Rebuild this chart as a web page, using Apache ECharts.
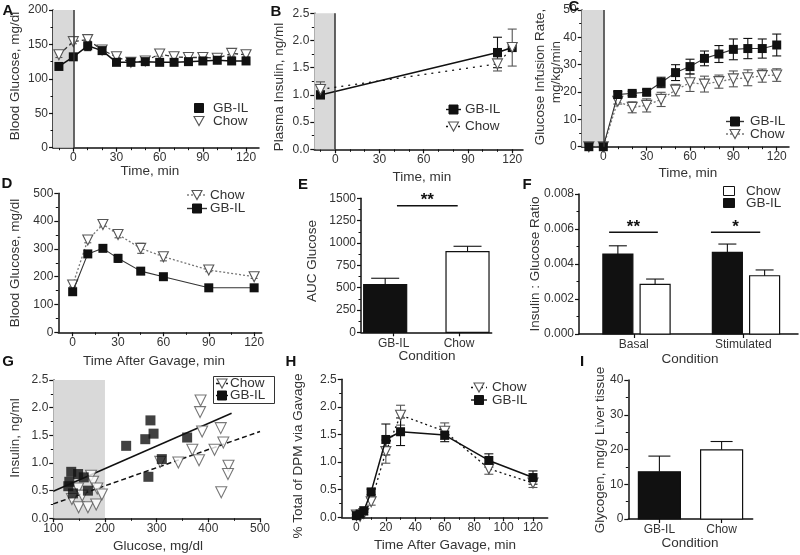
<!DOCTYPE html>
<html><head><meta charset="utf-8">
<script src="https://cdn.jsdelivr.net/npm/echarts@6/dist/echarts.min.js"></script>
<style>html,body{margin:0;padding:0;background:#fff}#c{width:800px;height:555px}</style>
</head><body><div id="c"></div><script>
// ---------- DATA ----------
// A: blood glucose during clamp
const timeA = [-10,0,10,20,30,40,50,60,70,80,90,100,110,120];
const gbA = [118,132,148,141,124,124,125,124,124,125,126,127,126,126];
const gbAErr = [3,3,7,5,3,2,2,2,3,2,2,2,3,3];
const chowA = [135,154,157,142,132,124,126,136,132,131,131,130,137,135];
const chowAErr = [4,3,5,6,4,3,3,3,3,3,3,3,4,3];
// B: plasma insulin
const timeB = [-10,110,120];
const gbB = [1.0,1.78,1.87];
const gbBErr = [0.07,0.28,0];
const chowB = [1.1,1.57,1.87];
const chowBErr = [0.14,0.13,0.34];
// C: glucose infusion rate
const timeC = [-10,0,10,20,30,40,50,60,70,80,90,100,110,120];
const gbC = [0,0,19.1,19.5,19.9,23.5,27.1,29.3,32.3,33.9,35.6,35.9,35.9,37.2];
const gbCErr = [0,0,1,0.8,1,1.9,2.9,2.7,2.7,3.1,3.8,3.7,3.5,4];
const chowC = [0,0,16.6,14.4,15.1,17.3,20.7,23.4,22.9,23.8,24.8,25.2,26,26.2];
const chowCErr = [0,0,1,2,2.4,2.6,2.1,3.2,2.9,2.4,2.9,2.9,2.4,2.3];
// D: oral glucose tolerance
const timeD = [0,10,20,30,45,60,90,120];
const gbD = [146,282,302,266,220,200,160,160];
const gbDErr = [5,12,8,14,8,6,4,4];
const chowD = [170,332,388,352,302,272,224,200];
const chowDErr = [6,10,6,12,18,15,6,6];
// E: AUC glucose
const condE = ['GB-IL','Chow'];
const aucE = [535,903];
const aucEErr = [70,60];
// F: insulin : glucose ratio
const condF = ['Basal','Stimulated'];
const ratioGB = [0.00457,0.00467];
const ratioGBErr = [0.00047,0.00047];
const ratioChow = [0.00284,0.00333];
const ratioChowErr = [0.0003,0.00033];
// G: insulin vs glucose
const scatterGB = [[134.7,0.84],[148,0.80],[159,0.74],[131,0.66],[129,0.58],[138,0.45],[167,0.50],[241,1.31],[278,1.43],[288,1.77],[294,1.53],[310,1.07],[284,0.75],[359,1.46]];
const scatterChow = [[136,0.35],[148,0.54],[149,0.20],[156,0.41],[167,0.20],[173,0.77],[177,0.66],[185,0.54],[183,0.25],[194,0.43],[385,2.13],[384,1.92],[388,1.57],[424,1.63],[429,1.37],[412,1.24],[369,1.24],[382,1.05],[342,1.01],[307,1.02],[439,0.95],[438,0.80],[425,0.47]];
const fitGB = [[100,0.49],[445,1.90]];
const fitChow = [[100,0.26],[500,1.57]];
// H: % total DPM via gavage
const timeH = [0,2.5,5,10,20,30,60,90,120];
const gbH = [0.03,0.06,0.12,0.46,1.41,1.55,1.49,1.03,0.72];
const gbHErr = [0.02,0.02,0.03,0.05,0.28,0.25,0.12,0.12,0.12];
const chowH = [0.04,0.02,0.07,0.28,1.19,1.85,1.56,0.88,0.62];
const chowHErr = [0.02,0.02,0.03,0.06,0.21,0.18,0.15,0.10,0.08];
// I: liver glycogen
const condI = ['GB-IL','Chow'];
const glyI = [13.6,19.9];
const glyIErr = [4.5,2.4];
// tick labels
const ticksTime30 = [0,30,60,90,120];
const minorTime10 = [-10,10,20,40,50,70,80,100,110];
const minorTime15 = [15,45,75,105];
const ticksTime20 = [0,20,40,60,80,100,120];
const minorTimeH = [10,30,50,70,90,110];
const catTicks = [1,3];

// ---------- STYLE / LAYOUT ----------
const FONT = '"Liberation Sans", Arial, Helvetica, sans-serif';
const INK = '#111';
const TXT = '#333';
const grids = [
  {left:53, top:10, width:206, height:137.7},
  {left:314.3, top:13.3, width:208.7, height:136},
  {left:581.7, top:10, width:207.3, height:136.7},
  {left:58.3, top:193.3, width:203.4, height:139},
  {left:361, top:198.3, width:130.7, height:134},
  {left:579, top:194, width:219, height:140},
  {left:53.3, top:380, width:206.7, height:138.3},
  {left:341.7, top:379.3, width:206, height:138},
  {left:628.3, top:380, width:124.4, height:139}
].map(g => Object.assign({outerBoundsMode:'none', containLabel:false}, g));

function xAx(gi, min, max, opts) {
  opts = opts || {};
  const ax = {
    type:'value', gridIndex:gi, min, max,
    axisLine:{show:true, onZero:false, lineStyle:{color:INK, width:1.5}},
    axisTick:{show:true, length:4, lineStyle:{color:INK, width:1.2}},
    axisLabel:{color:'#333', fontSize:12, fontFamily:FONT, margin:4},
    splitLine:{show:false}
  };
  if (opts.custom) { ax.axisTick.customValues = opts.custom; ax.axisLabel.customValues = opts.custom; }
  if (opts.interval) { ax.interval = opts.interval; }
  if (opts.minor) { ax.minorTick = {show:true, splitNumber:opts.minor, length:2.5, lineStyle:{color:INK, width:1}}; }
  if (opts.cats) { const c = opts.cats; ax.axisLabel.formatter = v => c[Math.round((v-1)/2)] || ''; ax.axisLabel.margin = 5; }
  return ax;
}
// extra axis carrying only short minor ticks
function minorAx(gi, min, max, vals) {
  return {type:'value', gridIndex:gi, min, max, position:'bottom',
    axisLine:{show:false, onZero:false},
    axisTick:{show:true, length:2.5, customValues:vals, lineStyle:{color:INK, width:1}},
    axisLabel:{show:false}, splitLine:{show:false}};
}
function yAx(gi, max, interval, dec) {
  return {
    type:'value', gridIndex:gi, min:0, max, interval,
    axisLine:{show:true, onZero:false, lineStyle:{color:INK, width:1.5}},
    axisTick:{show:true, length:4, lineStyle:{color:INK, width:1.2}},
    minorTick:{show:true, splitNumber:2, length:2.5, lineStyle:{color:INK, width:1}},
    axisLabel:{color:'#333', fontSize:12, fontFamily:FONT, margin:5, formatter: v => v.toFixed(dec)},
    splitLine:{show:false}
  };
}

const xAxes = [
  xAx(0,-14.1,129,{custom:ticksTime30}),
  xAx(1,-14.2,127.3,{custom:ticksTime30}),
  xAx(2,-14.95,128.5,{custom:ticksTime30}),
  xAx(3,-9.5,125,{custom:ticksTime30}),
  xAx(4,0,4,{custom:catTicks, cats:condE}),
  xAx(5,0,4,{custom:catTicks, cats:condF}),
  xAx(6,100,500,{interval:100, minor:2}),
  xAx(7,-10,130,{custom:ticksTime20}),
  xAx(8,0,4,{custom:catTicks, cats:condI}),
  minorAx(0,-14.1,129,minorTime10),
  minorAx(1,-14.2,127.3,minorTime10),
  minorAx(2,-14.95,128.5,minorTime10),
  minorAx(3,-9.5,125,minorTime15),
  minorAx(7,-10,130,minorTimeH)
];
const yAxes = [
  yAx(0,200,50,0), yAx(1,2.5,0.5,1), yAx(2,50,10,0),
  yAx(3,500,100,0), yAx(4,1500,250,0), yAx(5,0.008,0.002,3),
  yAx(6,2.5,0.5,1), yAx(7,2.5,0.5,1), yAx(8,40,10,0)
];

const zip = (xs, ys) => xs.map((x,i)=>[x, ys[i]]);
function gbLine(gi, xs, ys, extra) {
  return Object.assign({type:'line', name:'GB-IL', xAxisIndex:gi, yAxisIndex:gi, data:zip(xs,ys),
    symbol:'rect', symbolSize:9, itemStyle:{color:INK}, lineStyle:{color:INK, width:1.5}, z:4, silent:true}, extra||{});
}
function chowLine(gi, xs, ys, dash, color, extra) {
  return Object.assign({type:'line', name:'Chow', xAxisIndex:gi, yAxisIndex:gi, data:zip(xs,ys),
    symbol:'triangle', symbolRotate:180, symbolSize:10,
    itemStyle:{color:'#fff', borderColor:'#555', borderWidth:1.1},
    lineStyle:{color:color, width:1.3, type:dash}, z:3, silent:true}, extra||{});
}
function errSeries(gi, xs, ys, es, color, cap, up) {
  const data = [];
  xs.forEach((x,i)=>{ if (es[i] > 0) data.push([x, up ? ys[i] : ys[i]-es[i], ys[i]+es[i]]); });
  return {type:'custom', xAxisIndex:gi, yAxisIndex:gi, z:up?5:2, silent:true, data, encode:{x:0, y:[1,2]},
    renderItem:(p, api) => {
      const x = api.value(0);
      const a = api.coord([x, api.value(1)]), b = api.coord([x, api.value(2)]);
      const st = {stroke:color, lineWidth:1.1};
      const ch = [
        {type:'line', shape:{x1:a[0], y1:a[1], x2:b[0], y2:b[1]}, style:st},
        {type:'line', shape:{x1:b[0]-cap/2, y1:b[1], x2:b[0]+cap/2, y2:b[1]}, style:st}
      ];
      if (!up) ch.push({type:'line', shape:{x1:a[0]-cap/2, y1:a[1], x2:a[0]+cap/2, y2:a[1]}, style:st});
      return {type:'group', children:ch};
    }};
}
function barSeries(gi, xs, ys, w, fill) {
  return {type:'custom', xAxisIndex:gi, yAxisIndex:gi, z:3, silent:true, data:zip(xs,ys), encode:{x:0, y:1},
    renderItem:(p, api) => {
      const x = api.value(0);
      const a = api.coord([x, 0]), b = api.coord([x, api.value(1)]);
      return {type:'rect', shape:{x:a[0]-w/2, y:b[1], width:w, height:a[1]-b[1]},
        style:{fill:fill, stroke:INK, lineWidth:1.2}};
    }};
}
const shade = (from, to) => ({silent:true, itemStyle:{color:'#d9d9d9'}, data:[[{xAxis:from},{xAxis:to}]]});
const zeroLine = {silent:true, symbol:['none','none'], label:{show:false}, lineStyle:{color:'#333', width:1.5, type:'solid'}, data:[{xAxis:0}]};

// category positions for bar panels
const posE = [1,3], offE = [-0.26, 0.26];
const posF = [1,3], offGB_F = -0.29, offChow_F = 0.39;
const posI = [1,3];

const series = [
  // A
  errSeries(0, timeA, chowA, chowAErr, '#555', 7),
  errSeries(0, timeA, gbA, gbAErr, INK, 7),
  chowLine(0, timeA, chowA, [4,3], '#333'),
  gbLine(0, timeA, gbA, {markArea:shade(-14.1,0), markLine:zeroLine}),
  // B
  errSeries(1, timeB, chowB, chowBErr, '#555', 9),
  errSeries(1, timeB, gbB, gbBErr, INK, 9),
  gbLine(1, timeB, gbB, {markArea:shade(-14.2,0), markLine:zeroLine}),
  chowLine(1, timeB, chowB, [2,5], INK, {z:5}),
  // C
  errSeries(2, timeC, chowC, chowCErr, '#555', 9),
  errSeries(2, timeC, gbC, gbCErr, INK, 9),
  chowLine(2, timeC, chowC, [2,2], '#777'),
  gbLine(2, timeC, gbC, {markArea:shade(-14.95,0), markLine:zeroLine, lineStyle:{color:'#333', width:1.1}}),
  // D
  errSeries(3, timeD, chowD, chowDErr, '#555', 7),
  errSeries(3, timeD, gbD, gbDErr, INK, 7),
  chowLine(3, timeD, chowD, [2,2], '#777'),
  gbLine(3, timeD, gbD, {lineStyle:{color:'#333', width:1.1}}),
  // E
  barSeries(4, [posE[0]+offE[0]], [aucE[0]], 43, INK),
  barSeries(4, [posE[1]+offE[1]], [aucE[1]], 43, '#fff'),
  errSeries(4, [posE[0]+offE[0], posE[1]+offE[1]], aucE, aucEErr, INK, 28, true),
  // F
  barSeries(5, posF.map(p=>p+offGB_F), ratioGB, 30, INK),
  barSeries(5, posF.map(p=>p+offChow_F), ratioChow, 30, '#fff'),
  errSeries(5, posF.map(p=>p+offGB_F), ratioGB, ratioGBErr, INK, 18, true),
  errSeries(5, posF.map(p=>p+offChow_F), ratioChow, ratioChowErr, INK, 18, true),
  // G
  {type:'line', xAxisIndex:6, yAxisIndex:6, data:fitChow, symbol:'none', lineStyle:{color:INK, width:1.5, type:[5,3]}, z:2, silent:true,
    markArea:shade(100,200)},
  {type:'line', xAxisIndex:6, yAxisIndex:6, data:fitGB, symbol:'none', lineStyle:{color:INK, width:1.5}, z:2, silent:true},
  {type:'scatter', name:'Chow', xAxisIndex:6, yAxisIndex:6, data:scatterChow, symbol:'triangle', symbolRotate:180, symbolSize:11,
    itemStyle:{color:'#fff', borderColor:'#555', borderWidth:1.1}, z:3, silent:true},
  {type:'scatter', name:'GB-IL', xAxisIndex:6, yAxisIndex:6, data:scatterGB, symbol:'rect', symbolSize:10,
    itemStyle:{color:INK}, z:4, silent:true},
  // H
  errSeries(7, timeH, chowH, chowHErr, '#555', 9),
  errSeries(7, timeH, gbH, gbHErr, INK, 9),
  chowLine(7, timeH, chowH, [2,3], INK),
  gbLine(7, timeH, gbH),
  // I
  barSeries(8, [posI[0]], [glyI[0]], 42, INK),
  barSeries(8, [posI[1]], [glyI[1]], 42, '#fff'),
  errSeries(8, posI, glyI, glyIErr, INK, 22, true)
];

// ---------- TEXT / LEGENDS ----------
function txt(x, y, s, size, opts) {
  opts = opts || {};
  return {type:'text', x, y, rotation:opts.rot ? Math.PI/2 : 0, z:10, silent:true,
    style:{text:s, fill:opts.bold ? '#111' : TXT, fontSize:size, fontFamily:FONT, fontWeight:opts.bold?'bold':'normal',
      align:opts.align||'center', verticalAlign:'middle', textAlign:opts.align||'center', textVerticalAlign:'middle'}};
}
const ytitle = (x, y, s) => txt(x, y, s, 13.5, {rot:true});
const xtitle = (x, y, s) => txt(x, y, s, 13.5);
const letter = (x, y, s) => txt(x, y, s, 15, {bold:true});
const legText = (x, y, s) => txt(x, y, s, 13.5, {align:'left'});
const sq = (cx, cy, fill, w, h) => ({type:'rect', z:10, silent:true, shape:{x:cx-(w||9)/2, y:cy-(h||9)/2, width:w||9, height:h||9}, style:{fill:fill, stroke:INK, lineWidth:1}});
const tri = (cx, cy) => ({type:'polygon', z:10, silent:true, shape:{points:[[cx-5,cy-4.5],[cx+5,cy-4.5],[cx,cy+4.5]]}, style:{fill:'#fff', stroke:'#555', lineWidth:1.1}});
const seg = (x1, x2, y, dash, color) => ({type:'line', z:9, silent:true, shape:{x1, y1:y, x2, y2:y}, style:{stroke:color||INK, lineWidth:1.4, lineDash:dash||null}});

const baseGraphics = [
  letter(8,11,'A'), letter(276,12,'B'), letter(574,7,'C'),
  letter(7,184,'D'), letter(303,185,'E'), letter(527,185,'F'),
  letter(8,362,'G'), letter(291,362,'H'), letter(582,362,'I'),
  ytitle(15,76,'Blood Glucose, mg/dl'), xtitle(150,171,'Time, min'),
  ytitle(279,87,'Plasma Insulin, ng/ml'), xtitle(422,177,'Time, min'),
  ytitle(540,77,'Glucose Infusion Rate,'), ytitle(556,72,'mg/kg/min'), xtitle(688,173,'Time, min'),
  ytitle(15,263,'Blood Glucose, mg/dl'), xtitle(154,361,'Time After Gavage, min'),
  ytitle(312,261,'AUC Glucose'), xtitle(427,356,'Condition'),
  ytitle(535,264,'Insulin : Glucose Ratio'), xtitle(690,359,'Condition'),
  ytitle(15,438,'Insulin, ng/ml'), xtitle(158,546,'Glucose, mg/dl'),
  ytitle(298,456,'% Total of DPM via Gavage'), xtitle(445,545,'Time After Gavage, min'),
  ytitle(600,450,'Glycogen, mg/g Liver tissue'), xtitle(690,543,'Condition'),
  // legend A
  sq(199,108,INK), legText(213,108,'GB-IL'), tri(199,121), legText(213,121,'Chow'),
  // legend B
  seg(446,461,109.5), sq(453.5,109.5,INK), legText(465,109.5,'GB-IL'),
  seg(446,461,126.5,[2,4]), tri(453.5,126.5), legText(465,126.5,'Chow'),
  // legend C
  seg(726,744,121.5,null,'#333'), sq(735,121.5,INK), legText(750,121.5,'GB-IL'),
  seg(726,744,134,[2,2],'#777'), tri(735,134), legText(750,134,'Chow'),
  // legend D
  seg(187,207,195,[2,2],'#777'), tri(197,195), legText(210,195,'Chow'),
  seg(187,207,208.5,null,'#333'), sq(197,208.5,INK), legText(210,208.5,'GB-IL'),
  // legend F
  sq(729,191,'#fff',11,9), legText(746,191,'Chow'),
  sq(729,203,INK,11,9), legText(746,203,'GB-IL'),
  // legend G
  {type:'rect', z:8, silent:true, shape:{x:213.5, y:376.5, width:61, height:27}, style:{fill:'#fff', stroke:'#333', lineWidth:1}},
  seg(216,228,383.5,[3,2]), tri(222,383.5), legText(230,383.5,'Chow'),
  seg(216,228,395.5), sq(222,395.5,INK), legText(230,395.5,'GB-IL'),
  // legend H
  seg(471,487,387.5,[2,3]), tri(479,387.5), legText(492,387.5,'Chow'),
  seg(471,487,400), sq(479,400,INK), legText(492,400,'GB-IL')
];

// significance annotations (data coordinates)
const sigE = [{x1:1.10, x2:2.96, y:1417, s:'**'}];
const sigF = [{x1:0.55, x2:1.44, y:0.00581, s:'**'}, {x1:2.41, x2:3.31, y:0.00581, s:'*'}];

const chart = echarts.init(document.getElementById('c'), null, {renderer:'canvas'});
chart.setOption({
  animation:false, backgroundColor:'#fff',
  grid:grids, xAxis:xAxes, yAxis:yAxes, series:series
});
const sigG = [];
function addSig(gi, list) {
  list.forEach(s => {
    const a = chart.convertToPixel({xAxisIndex:gi, yAxisIndex:gi}, [s.x1, s.y]);
    const b = chart.convertToPixel({xAxisIndex:gi, yAxisIndex:gi}, [s.x2, s.y]);
    sigG.push({type:'line', z:10, silent:true, shape:{x1:a[0], y1:a[1], x2:b[0], y2:b[1]}, style:{stroke:INK, lineWidth:1.5}});
    sigG.push(txt((a[0]+b[0])/2, a[1]-5, s.s, 17, {bold:true}));
  });
}
addSig(4, sigE);
addSig(5, sigF);
chart.setOption({graphic:{elements: baseGraphics.concat(sigG)}});
</script></body></html>
